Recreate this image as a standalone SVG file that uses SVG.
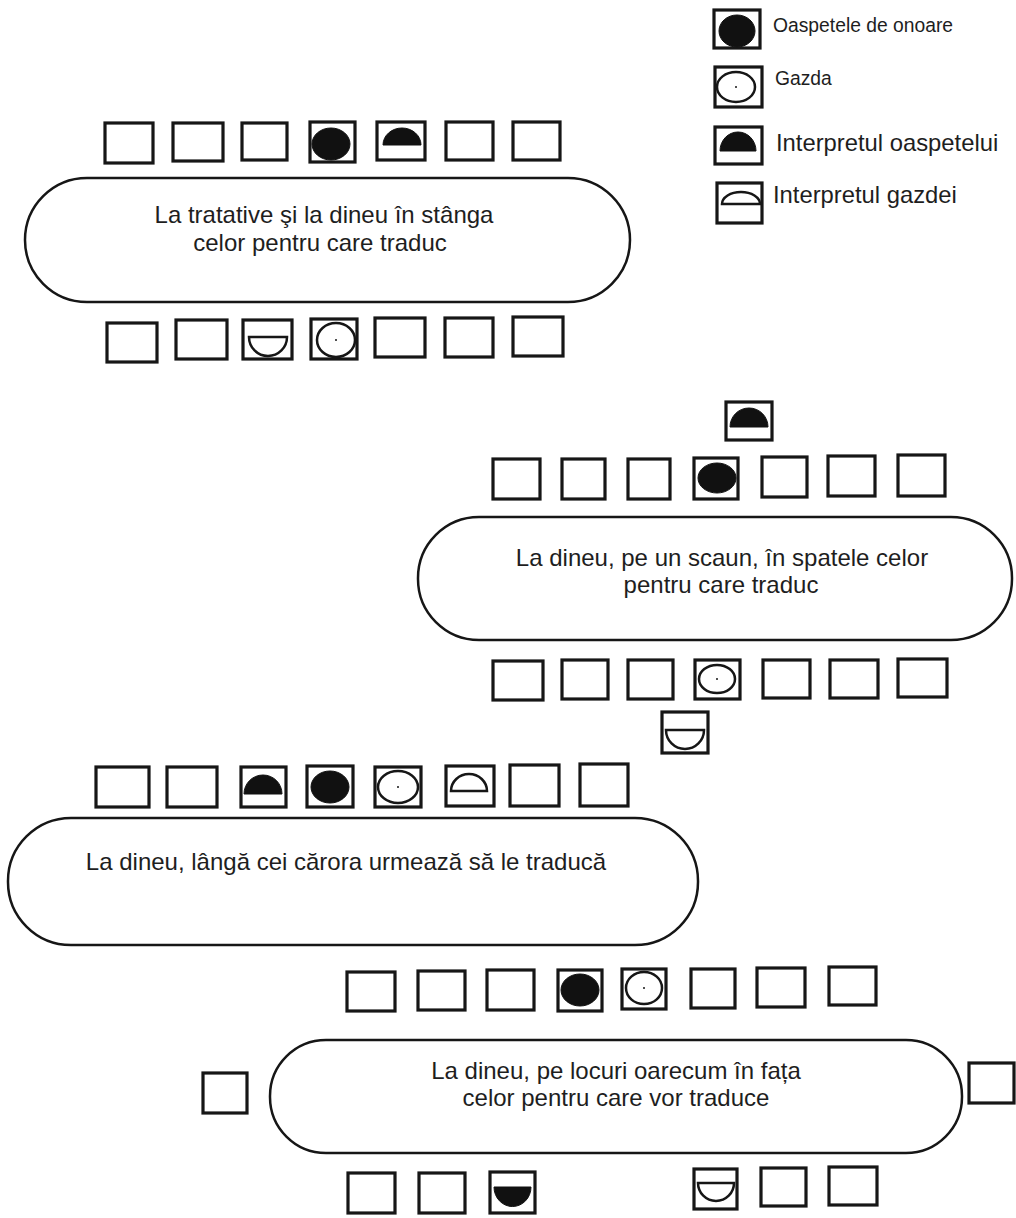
<svg xmlns="http://www.w3.org/2000/svg" width="1016" height="1218" viewBox="0 0 1016 1218">
<style>
.bg{fill:#ffffff}
.chair{fill:none;stroke:#161616;stroke-width:3.2}
.table{fill:none;stroke:#161616;stroke-width:2.5}
.fill{fill:#111111;stroke:#111111;stroke-width:1}
.open{fill:none;stroke:#161616;stroke-width:2.5}
.dot{fill:#161616}
.lbl{font-family:"Liberation Sans",Arial,sans-serif;fill:#1e1e1e}
.t{font-size:24px;text-anchor:middle}
.leg1{font-size:19.3px}
.leg2{font-size:23.8px}
</style>
<rect class="bg" x="0" y="0" width="1016" height="1218"/>

<g id="legend">
  <g id="legend-guest"><rect class="chair" x="714" y="10" width="46" height="38"/><ellipse class="fill" cx="737" cy="31" rx="18" ry="16"/><text class="lbl leg1" x="773" y="32">Oaspetele de onoare</text></g>
  <g id="legend-host"><rect class="chair" x="715" y="67" width="47" height="40"/><ellipse class="open" cx="736" cy="87" rx="19" ry="15"/><circle class="dot" cx="736" cy="87" r="1"/><text class="lbl leg1" x="775" y="85">Gazda</text></g>
  <g id="legend-guest-interp"><rect class="chair" x="715" y="127" width="47" height="37"/><path class="fill" d="M720,151 A18,19 0 0 1 756,151 Z"/><text class="lbl leg2" x="776" y="151">Interpretul oaspetelui</text></g>
  <g id="legend-host-interp"><rect class="chair" x="717" y="183" width="45" height="40"/><path class="open" d="M722,204 A19,12 0 0 1 760,204 Z"/><text class="lbl leg2" x="773" y="203">Interpretul gazdei</text></g>
</g>

<g id="table1">
  <rect class="table" x="25" y="178" width="605" height="124" rx="62" ry="62"/>
  <text class="lbl t" x="324" y="223">La tratative şi la dineu în stânga</text>
  <text class="lbl t" x="320" y="251">celor pentru care traduc</text>
</g>
<g id="t1-top">
  <g id="t1-t1"><rect class="chair" x="105" y="123" width="48" height="40"/></g>
  <g id="t1-t2"><rect class="chair" x="173" y="123" width="50" height="38"/></g>
  <g id="t1-t3"><rect class="chair" x="242" y="123" width="45" height="37"/></g>
  <g id="t1-t4"><rect class="chair" x="310" y="122" width="45" height="40"/><ellipse class="fill" cx="331" cy="144" rx="19" ry="16"/></g>
  <g id="t1-t5"><rect class="chair" x="377" y="122" width="48" height="38"/><path class="fill" d="M383,145 A19,17 0 0 1 421,145 Z"/></g>
  <g id="t1-t6"><rect class="chair" x="446" y="122" width="47" height="38"/></g>
  <g id="t1-t7"><rect class="chair" x="513" y="122" width="47" height="38"/></g>
</g>
<g id="t1-bottom">
  <g id="t1-b1"><rect class="chair" x="107" y="323" width="50" height="39"/></g>
  <g id="t1-b2"><rect class="chair" x="176" y="320" width="51" height="39"/></g>
  <g id="t1-b3"><rect class="chair" x="243" y="320" width="49" height="39"/><path class="open" d="M249,337 A19,19 0 0 0 287,337 Z"/></g>
  <g id="t1-b4"><rect class="chair" x="311" y="319" width="46" height="40"/><ellipse class="open" cx="336" cy="340" rx="19" ry="17"/><circle class="dot" cx="336" cy="340" r="1"/></g>
  <g id="t1-b5"><rect class="chair" x="375" y="318" width="50" height="39"/></g>
  <g id="t1-b6"><rect class="chair" x="445" y="318" width="48" height="39"/></g>
  <g id="t1-b7"><rect class="chair" x="513" y="317" width="50" height="39"/></g>
</g>

<g id="table2">
  <rect class="table" x="418" y="517" width="594" height="123" rx="61" ry="61"/>
  <text class="lbl t" x="722" y="566">La dineu, pe un scaun, în spatele celor</text>
  <text class="lbl t" x="721" y="593">pentru care traduc</text>
</g>
<g id="t2-interp-top"><rect class="chair" x="726" y="402" width="46" height="38"/><path class="fill" d="M730,427 A19,19 0 0 1 768,427 Z"/></g>
<g id="t2-top">
  <g id="t2-t1"><rect class="chair" x="493" y="459" width="47" height="40"/></g>
  <g id="t2-t2"><rect class="chair" x="562" y="459" width="43" height="40"/></g>
  <g id="t2-t3"><rect class="chair" x="628" y="459" width="42" height="40"/></g>
  <g id="t2-t4"><rect class="chair" x="694" y="458" width="44" height="41"/><ellipse class="fill" cx="717" cy="478" rx="19" ry="15"/></g>
  <g id="t2-t5"><rect class="chair" x="762" y="457" width="45" height="40"/></g>
  <g id="t2-t6"><rect class="chair" x="828" y="456" width="47" height="40"/></g>
  <g id="t2-t7"><rect class="chair" x="898" y="455" width="47" height="41"/></g>
</g>
<g id="t2-bottom">
  <g id="t2-b1"><rect class="chair" x="493" y="661" width="50" height="39"/></g>
  <g id="t2-b2"><rect class="chair" x="562" y="660" width="46" height="39"/></g>
  <g id="t2-b3"><rect class="chair" x="628" y="660" width="45" height="39"/></g>
  <g id="t2-b4"><rect class="chair" x="695" y="660" width="45" height="39"/><ellipse class="open" cx="717" cy="679" rx="18" ry="14"/><circle class="dot" cx="717" cy="679" r="1"/></g>
  <g id="t2-b5"><rect class="chair" x="763" y="660" width="47" height="38"/></g>
  <g id="t2-b6"><rect class="chair" x="830" y="660" width="48" height="38"/></g>
  <g id="t2-b7"><rect class="chair" x="898" y="659" width="49" height="38"/></g>
</g>
<g id="t2-interp-bottom"><rect class="chair" x="662" y="712" width="46" height="41"/><path class="open" d="M666,730 A19,19 0 0 0 704,730 Z"/></g>

<g id="table3">
  <rect class="table" x="8" y="818" width="690" height="127" rx="63" ry="63"/>
  <text class="lbl t" x="346" y="870">La dineu, lângă cei cărora urmează să le traducă</text>
</g>
<g id="t3-top">
  <g id="t3-t1"><rect class="chair" x="96" y="767" width="53" height="40"/></g>
  <g id="t3-t2"><rect class="chair" x="167" y="767" width="50" height="40"/></g>
  <g id="t3-t3"><rect class="chair" x="241" y="767" width="45" height="40"/><path class="fill" d="M244,794 A19,19 0 0 1 282,794 Z"/></g>
  <g id="t3-t4"><rect class="chair" x="307" y="766" width="46" height="41"/><ellipse class="fill" cx="330" cy="787" rx="19" ry="16"/></g>
  <g id="t3-t5"><rect class="chair" x="375" y="767" width="46" height="40"/><ellipse class="open" cx="398" cy="787" rx="20" ry="16"/><circle class="dot" cx="398" cy="787" r="1"/></g>
  <g id="t3-t6"><rect class="chair" x="446" y="766" width="48" height="40"/><path class="open" d="M451,791 A18,17 0 0 1 487,791 Z"/></g>
  <g id="t3-t7"><rect class="chair" x="510" y="765" width="49" height="41"/></g>
  <g id="t3-t8"><rect class="chair" x="580" y="764" width="48" height="42"/></g>
</g>

<g id="table4">
  <rect class="table" x="270" y="1040" width="692" height="113" rx="56" ry="56"/>
  <text class="lbl t" x="616" y="1079">La dineu, pe locuri oarecum în fața</text>
  <text class="lbl t" x="616" y="1106">celor pentru care vor traduce</text>
</g>
<g id="t4-top">
  <g id="t4-t1"><rect class="chair" x="347" y="972" width="48" height="39"/></g>
  <g id="t4-t2"><rect class="chair" x="418" y="971" width="47" height="39"/></g>
  <g id="t4-t3"><rect class="chair" x="487" y="970" width="47" height="40"/></g>
  <g id="t4-t4"><rect class="chair" x="558" y="970" width="44" height="41"/><ellipse class="fill" cx="580" cy="990" rx="19" ry="16"/></g>
  <g id="t4-t5"><rect class="chair" x="622" y="969" width="44" height="40"/><ellipse class="open" cx="644" cy="988" rx="18" ry="16"/><circle class="dot" cx="644" cy="988" r="1"/></g>
  <g id="t4-t6"><rect class="chair" x="691" y="969" width="44" height="39"/></g>
  <g id="t4-t7"><rect class="chair" x="757" y="968" width="48" height="39"/></g>
  <g id="t4-t8"><rect class="chair" x="829" y="967" width="47" height="38"/></g>
</g>
<g id="t4-left"><rect class="chair" x="203" y="1073" width="44" height="40"/></g>
<g id="t4-right"><rect class="chair" x="969" y="1063" width="45" height="40"/></g>
<g id="t4-bottom">
  <g id="t4-b1"><rect class="chair" x="348" y="1173" width="47" height="40"/></g>
  <g id="t4-b2"><rect class="chair" x="419" y="1173" width="46" height="40"/></g>
  <g id="t4-b3"><rect class="chair" x="490" y="1172" width="45" height="41"/><path class="fill" d="M494,1187 A18,19 0 0 0 531,1187 Z"/></g>
  <g id="t4-b4"><rect class="chair" x="694" y="1169" width="43" height="40"/><path class="open" d="M698,1183 A18,18 0 0 0 734,1183 Z"/></g>
  <g id="t4-b5"><rect class="chair" x="761" y="1168" width="45" height="38"/></g>
  <g id="t4-b6"><rect class="chair" x="829" y="1167" width="48" height="38"/></g>
</g>
<g id="connectors"></g>
</svg>
